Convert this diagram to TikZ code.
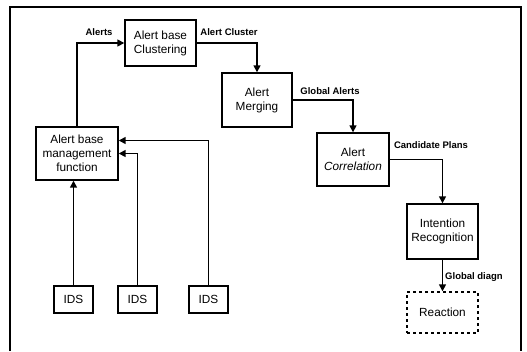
\documentclass[tikz,border=0pt]{standalone}
\usepackage{fontspec}
\setmainfont{Liberation Sans}
\usetikzlibrary{arrows.meta}
\begin{document}
\begin{tikzpicture}[x=1pt,y=-1pt,
  box/.style={draw,line width=1.4pt,align=center,inner sep=0pt,font=\fontsize{11.8}{14}\selectfont},
  lbl/.style={font=\fontsize{9.5}{11}\selectfont\bfseries,inner sep=0pt},
  conn/.style={line width=1.5pt,-{Triangle[length=7pt,width=7pt]}},
  frm/.style={line width=1.2pt}]
\useasboundingbox (0,0) rectangle (527,351);
\draw[frm] (10,351) -- (10,7) -- (521,7) -- (521,351);
\node[box,minimum width=71pt,minimum height=46pt] (clust) at (160.5,43) {Alert base\\Clustering};
\node[box,minimum width=70pt,minimum height=54pt] (merg) at (257,100) {Alert\\Merging};
\node[box,minimum width=72pt,minimum height=53pt] (corr) at (353,159.5) {Alert\\\textit{Correlation}};
\node[box,minimum width=71pt,minimum height=55pt] (intn) at (442.5,231.5) {Intention\\Recognition};
\node[box,dashed,minimum width=71pt,minimum height=41pt] (react) at (442.5,312.5) {Reaction};
\node[box,minimum width=82pt,minimum height=53pt] (mgmt) at (77,153.5) {Alert base\\management\\function};
\node[box,minimum width=39pt,minimum height=27pt] (ids1) at (73.5,299.5) {IDS};
\node[box,minimum width=39pt,minimum height=27pt] (ids2) at (137.5,299.5) {IDS};
\node[box,minimum width=39pt,minimum height=27pt] (ids3) at (208.5,299.5) {IDS};
\draw[conn] (mgmt.north) |- (clust.west);
\draw[conn] (clust.east) -| (merg.north);
\draw[conn] (merg.east) -| (corr.north);
\draw[conn] (corr.east) -| (intn.north);
\draw[conn] (intn.south) -- (react.north);
\draw[conn] (ids1.north) -- (ids1.north |- mgmt.south);
\draw[conn] (ids2.north) |- (mgmt.east);
\draw[conn] (ids3.north) |- ([yshift=13pt]mgmt.east);
\node[lbl] (l1) at (99,32) {Alerts};
\node[lbl] (l2) at (229,32) {Alert Cluster};
\node[lbl] (l3) at (330,91) {Global Alerts};
\node[lbl] (l4) at (431,145) {Candidate Plans};
\node[lbl] (l5) at (474,277) {Global diagn};
\end{tikzpicture}
\end{document}
